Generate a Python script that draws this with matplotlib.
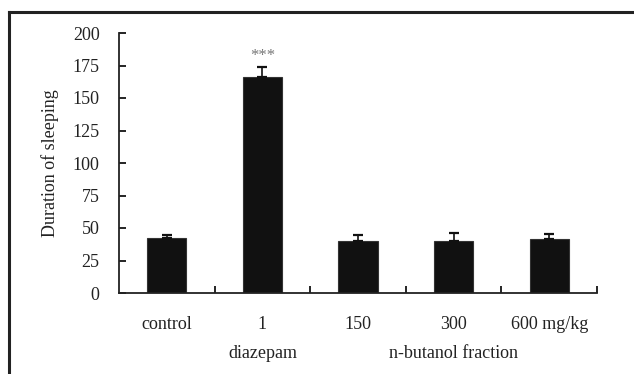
import matplotlib
matplotlib.use('Agg')
import matplotlib.pyplot as plt
from matplotlib.lines import Line2D
import numpy as np

plt.rcParams['font.family'] = ['Liberation Serif', 'DejaVu Serif']

# data
groups = ["control", "1", "150", "300", "600 mg/kg"]
means = [42.5, 166, 40, 40, 41.5]
errs = [2.5, 8, 5, 6.5, 4]
group_names = ["diazepam", "n-butanol fraction"]
group_pos = [1, 3]
sig_label = "***"
yticks = [0, 25, 50, 75, 100, 125, 150, 175, 200]

TEXT = '#222222'
FS = 13

fig = plt.figure(figsize=(6.34, 3.74), dpi=100)
fig.patch.set_facecolor('white')
ax = fig.add_axes([119 / 634, 1 - 293 / 374, 478 / 634, 260 / 374])

x = np.arange(len(groups))
ax.bar(x, means, width=0.41, color='#111111', edgecolor='#333333', linewidth=0.8, zorder=2)
ax.errorbar(x, means, yerr=[np.zeros(len(errs)), errs], fmt='none',
            ecolor='#111111', elinewidth=1.2, capsize=3.6, capthick=1.6, zorder=3)

# significance stars, slightly spread like the original
ax.text(x[1], means[1] + errs[1] + 2.5, sig_label, ha='center', va='bottom',
        fontsize=12, color='#777777', fontstretch='expanded')

ax.set_xlim(-0.5, len(groups) - 0.5)
ax.set_ylim(0, 200)
ax.set_yticks(yticks)
ax.set_yticklabels([str(t) for t in yticks], fontsize=FS, color=TEXT)
ax.tick_params(axis='y', direction='in', length=5, width=1.2, pad=14)

# category boundary ticks on the x axis, labels at the centres
ax.set_xticks(np.arange(len(groups)) + 0.5)
ax.set_xticklabels([])
ax.tick_params(axis='x', direction='in', length=5, width=1.2)
for xi, lbl in zip(x, groups):
    ax.text(xi, -18, lbl, ha='center', va='top', fontsize=FS, color=TEXT,
            clip_on=False)
for xi, lbl in zip(group_pos, group_names):
    ax.text(xi, -40, lbl, ha='center', va='top', fontsize=FS, color=TEXT,
            clip_on=False)

ax.set_ylabel("Duration of sleeping", fontsize=FS, color=TEXT, labelpad=10)

for s in ['top', 'right']:
    ax.spines[s].set_visible(False)
for s in ['left', 'bottom']:
    ax.spines[s].set_linewidth(1.3)
    ax.spines[s].set_color('#222222')

# outer frame: only top and left edges visible
fig.add_artist(Line2D([9 / 634, 9 / 634], [0, 1 - 12 / 374], transform=fig.transFigure,
                      color='#222222', linewidth=2.2))
fig.add_artist(Line2D([9 / 634, 1], [1 - 12 / 374, 1 - 12 / 374], transform=fig.transFigure,
                      color='#222222', linewidth=2.2))

fig.savefig('out.png', dpi=100, facecolor='white')
plt.close()
